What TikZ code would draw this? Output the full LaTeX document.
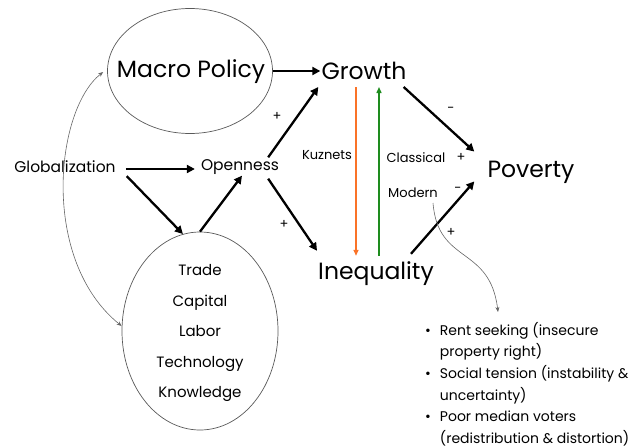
\documentclass[tikz,border=0pt]{standalone}
\usepackage{fontspec}
\setmainfont{Poppins}
\usetikzlibrary{arrows.meta,shapes.geometric,calc}
\definecolor{korange}{RGB}{250,115,40}
\definecolor{kgreen}{RGB}{30,140,30}
\begin{document}
\begin{tikzpicture}[x=1pt,y=-1pt,
 big/.style={font=\fontsize{23.5}{26}\selectfont, inner sep=1pt},
 mid/.style={font=\fontsize{15.5}{18}\selectfont, inner sep=1pt},
 sml/.style={font=\fontsize{13}{16}\selectfont, inner sep=1pt},
 bigarrow/.style={line width=2.3pt, -{Triangle[length=8pt,width=8pt]}},
 thinarrow/.style={draw=gray!80!black, line width=0.6pt, -{Stealth[length=5pt,width=4pt]}},
 oval/.style={draw=gray!70!black, ellipse, line width=0.7pt, inner sep=0pt}
]
\useasboundingbox (0,0) rectangle (632,447);
% nodes
\node[oval, minimum width=165, minimum height=125] (macro) at (190,71) {};
\node[big] (macrot) at (191,72) {Macro Policy};
\node[big] (growth) at (364,71) {Growth};
\node[mid] (glob) at (65,167) {Globalization};
\node[mid] (open) at (240,167) {Openness};
\node[big] (ineq) at (376,274) {Inequality};
\node[big] (pov) at (531,172) {Poverty};
\node[oval, minimum width=156, minimum height=198] (fac) at (200,331) {};
\node[align=center, inner sep=0pt, font=\fontsize{15}{30.5}\selectfont] (fact) at (200,333)
      {Trade\\Capital\\Labor\\Technology\\Knowledge};
\node[sml] (kuz) at (327,155) {Kuznets};
\node[sml] (clas) at (416,158) {Classical};
\node[sml] (clasp) at (461,157) {+};
\node[sml] (mod) at (413,193) {Modern};
\node[sml] (modm) at (458,190) {-};
\node[sml] (p1) at (277,116) {+};
\node[sml] (p2) at (284,224) {+};
\node[sml] (p3) at (451,110) {-};
\node[sml] (p4) at (451,232) {+};
\node[anchor=north west, inner sep=0pt, font=\fontsize{14}{21.6}\selectfont] (list) at (425,320)
 {\begin{tabular}{@{}l@{\hspace{9pt}}l@{}}
 \textbullet & Rent seeking (insecure\\
  & property right)\\
 \textbullet & Social tension (instability \&\\
  & uncertainty)\\
 \textbullet & Poor median voters\\
  & (redistribution \& distortion)
 \end{tabular}};
\coordinate (mstart) at (433,203);
\coordinate (lend) at (498,312);
% connectors
\draw[bigarrow] (macro.east) -- (growth.west);
\draw[bigarrow, shorten <=9pt, shorten >=5pt] ($(glob.east)+(0,2)$) -- ($(open.west)+(0,2)$);
\draw[bigarrow] ($(glob.south east)+(10,2)$) -- (fac.100);
\draw[bigarrow] (fac.north) -- ($(open.south)+(2,0)$);
\draw[bigarrow] ($(open.north east)+(-12,-1)$) -- ($(growth.south west)+(-2,6)$);
\draw[bigarrow] ($(open.south east)+(-12,3)$) -- ($(ineq.north west)+(0,-10)$);
\draw[bigarrow] ($(growth.south east)+(-4,6)$) -- ($(pov.north west)+(-12,-8)$);
\draw[bigarrow] ($(ineq.north east)+(-24,-7)$) -- ($(pov.south west)+(-12,-3)$);
\draw[korange, line width=1.4pt, -{Triangle[length=6pt,width=5pt]}] ($(growth.south)+(-8,6)$) -- ($(ineq.north)+(-20,-5)$);
\draw[kgreen, line width=1.4pt, -{Triangle[length=6pt,width=5pt]}] ($(ineq.north)+(3,-5)$) -- ($(growth.south)+(15,6)$);
\draw[thinarrow, {Stealth[length=5pt,width=4pt]}-{Stealth[length=5pt,width=4pt]}] ($(macro.west)+(-4,1)$) .. controls (55,110) and (40,260) .. ($(fac.west)+(0,-5)$);
\draw[thinarrow] (mstart) .. controls (438,265) and (490,245) .. (lend);
\end{tikzpicture}
\end{document}
